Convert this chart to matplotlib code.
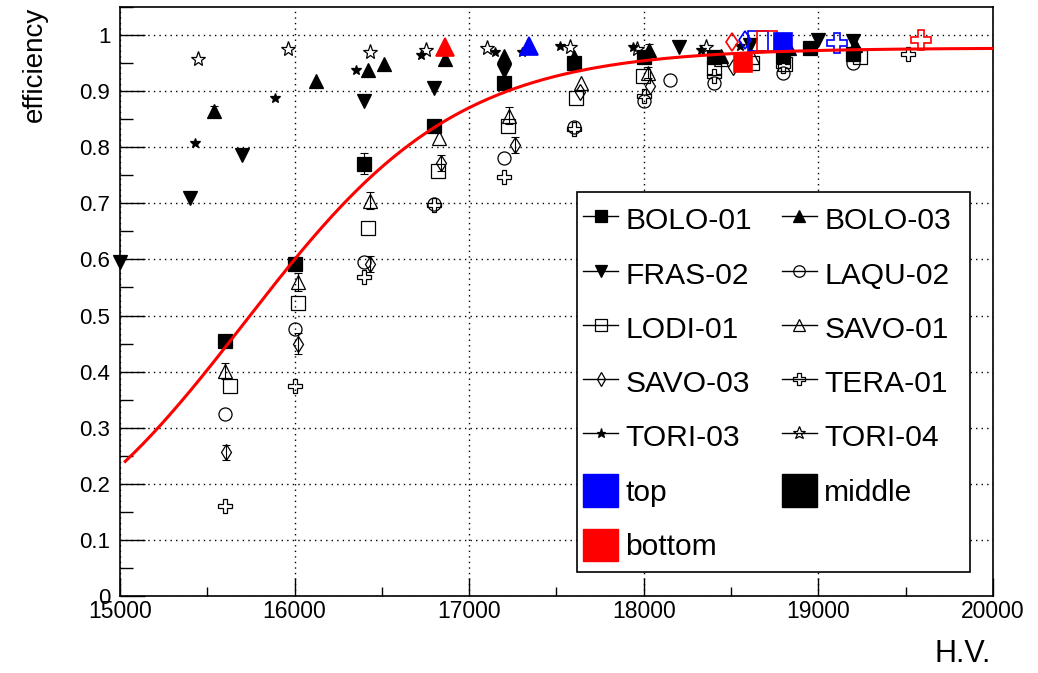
import numpy as np
import matplotlib
matplotlib.use("Agg")
import matplotlib.pyplot as plt
from matplotlib.lines import Line2D
from matplotlib.patches import Patch, Rectangle
from matplotlib.ticker import MultipleLocator, FormatStrFormatter

plt.rcParams['font.family'] = ['Liberation Sans', 'DejaVu Sans']

# efficiency vs H.V. per chamber
bolo01_hv = [15600, 16000, 16400, 16800, 17200, 17600, 18000, 18400, 18800, 18950, 19200]
bolo01_eff = [0.455, 0.591, 0.771, 0.838, 0.915, 0.951, 0.960, 0.960, 0.963, 0.977, 0.966]
bolo01_err = [0, 0, 0.018, 0, 0, 0, 0, 0, 0, 0, 0]

bolo03_hv = [15540, 16120, 16420, 16510, 16860, 17200, 17600, 18030, 18440, 18830, 19210]
bolo03_eff = [0.864, 0.918, 0.938, 0.949, 0.957, 0.963, 0.960, 0.974, 0.963, 0.977, 0.983]
bolo03_err = [0.010, 0, 0, 0, 0, 0, 0, 0.010, 0, 0, 0]

fras02_hv = [15000, 15400, 15700, 16400, 16800, 17200, 18200, 18610, 19000, 19200]
fras02_eff = [0.595, 0.709, 0.786, 0.883, 0.906, 0.936, 0.978, 0.983, 0.991, 0.989]
fras02_err = [0, 0, 0, 0, 0, 0, 0, 0, 0, 0]

laqu02_hv = [15600, 16000, 16400, 16800, 17200, 17600, 18000, 18150, 18400, 18800, 19200]
laqu02_eff = [0.325, 0.476, 0.595, 0.698, 0.780, 0.836, 0.883, 0.919, 0.914, 0.933, 0.951]
laqu02_err = [0, 0, 0, 0, 0, 0, 0, 0, 0, 0, 0]

lodi01_hv = [15630, 16020, 16420, 16820, 17220, 17610, 17995, 18400, 18620, 18810, 19240]
lodi01_eff = [0.375, 0.523, 0.656, 0.757, 0.838, 0.888, 0.927, 0.942, 0.950, 0.948, 0.960]
lodi01_err = [0, 0, 0, 0, 0, 0, 0, 0, 0, 0, 0]

savo01_hv = [15600, 16020, 16430, 16830, 17230, 17640, 18025, 18440, 18620]
savo01_eff = [0.401, 0.559, 0.705, 0.817, 0.856, 0.915, 0.933, 0.958, 0.960]
savo01_err = [0.015, 0.016, 0.015, 0, 0.015, 0, 0.010, 0, 0]

savo03_hv = [15610, 16020, 16430, 16840, 17260, 17635, 18035, 18510]
savo03_eff = [0.256, 0.450, 0.592, 0.772, 0.804, 0.899, 0.909, 0.943]
savo03_err = [0.014, 0.018, 0.015, 0.015, 0.014, 0, 0, 0]

tera01_hv = [15600, 16000, 16400, 16800, 17200, 17600, 18000, 18400, 18800, 19515]
tera01_eff = [0.160, 0.374, 0.568, 0.697, 0.747, 0.832, 0.891, 0.927, 0.945, 0.967]
tera01_err = [0, 0, 0, 0, 0, 0, 0, 0, 0, 0]

tori03_hv = [15430, 15885, 16350, 16725, 17150, 17300, 17520, 17940, 18330, 18550]
tori03_eff = [0.807, 0.888, 0.938, 0.964, 0.970, 0.969, 0.980, 0.978, 0.974, 0.980]
tori03_err = [0, 0, 0, 0, 0, 0, 0, 0, 0, 0]

tori04_hv = [15445, 15960, 16430, 16750, 17100, 17575, 17960, 18355]
tori04_eff = [0.958, 0.976, 0.970, 0.974, 0.977, 0.979, 0.976, 0.978]
tori04_err = [0, 0, 0, 0, 0, 0, 0, 0]

# working points per layer (big coloured markers)
wp_chamber = ["BOLO-03", "BOLO-03", "SAVO-03", "SAVO-03", "BOLO-01",
              "LODI-01", "LODI-01", "BOLO-01", "TERA-01", "TERA-01"]
wp_layer = ["bottom", "top", "bottom", "top", "bottom",
            "top", "bottom", "top", "top", "bottom"]
wp_hv = [16860, 17340, 18503, 18580, 18570, 18656, 18707, 18800, 19105, 19586]
wp_eff = [0.979, 0.980, 0.988, 0.991, 0.951, 0.989, 0.990, 0.988, 0.986, 0.992]

# sigmoid fit
fit_plateau = 0.977
fit_hv50 = 15716
fit_slope = 0.001636
fit_hv_min = 15030

series = {
    "BOLO-01": (bolo01_hv, bolo01_eff, bolo01_err),
    "BOLO-03": (bolo03_hv, bolo03_eff, bolo03_err),
    "FRAS-02": (fras02_hv, fras02_eff, fras02_err),
    "LAQU-02": (laqu02_hv, laqu02_eff, laqu02_err),
    "LODI-01": (lodi01_hv, lodi01_eff, lodi01_err),
    "SAVO-01": (savo01_hv, savo01_eff, savo01_err),
    "SAVO-03": (savo03_hv, savo03_eff, savo03_err),
    "TERA-01": (tera01_hv, tera01_eff, tera01_err),
    "TORI-03": (tori03_hv, tori03_eff, tori03_err),
    "TORI-04": (tori04_hv, tori04_eff, tori04_err),
}

# marker, filled, size in plot, size for big working point marker
style = {
    "BOLO-01": ("s", True, 9.4, 13.5),
    "BOLO-03": ("^", True, 9.4, 13.0),
    "FRAS-02": ("v", True, 9.4, 13.0),
    "LAQU-02": ("o", False, 9.4, 13.0),
    "LODI-01": ("s", False, 9.4, 14.0),
    "SAVO-01": ("^", False, 9.4, 13.0),
    "SAVO-03": ("d", False, 7.7, 9.5),
    "TERA-01": ("P", False, 9.6, 14.5),
    "TORI-03": ("*", True, 7.5, 12.0),
    "TORI-04": ("*", False, 11.0, 14.0),
}
layer_color = {"top": "#0000ff", "middle": "black", "bottom": "#ff0000"}

fig = plt.figure(figsize=(10.38, 6.73), dpi=100)
ax = fig.add_axes([0.1156, 0.1144, 0.8410, 0.8752])

for name, (hv, eff, err) in series.items():
    m, filled, ms, _ = style[name]
    hv = np.array(hv)
    eff = np.array(eff)
    err = np.array(err)
    ax.plot(hv, eff, linestyle="none", marker=m, ms=ms,
            mfc="black" if filled else "none", mec="black", mew=0.9,
            clip_on=False, zorder=3)
    has = err > 0
    if has.any():
        ax.errorbar(hv[has], eff[has], yerr=err[has], fmt="none",
                    ecolor="black", elinewidth=0.8, capsize=2.6,
                    capthick=0.8, zorder=3)

for ch, layer, hv, eff in zip(wp_chamber, wp_layer, wp_hv, wp_eff):
    m, filled, _, big = style[ch]
    c = layer_color[layer]
    ax.plot([hv], [eff], linestyle="none", marker=m, ms=big,
            mfc=c if filled else "none", mec=c, mew=1.2, zorder=4)

hv_fit = np.linspace(fit_hv_min, 20000, 400)
eff_fit = fit_plateau / (1 + np.exp(-fit_slope * (hv_fit - fit_hv50)))
ax.plot(hv_fit, eff_fit, color="#ff0000", lw=2.2, zorder=5)

ax.set_xlim(15000, 20000)
ax.set_ylim(0, 1.05)
ax.xaxis.set_major_locator(MultipleLocator(1000))
ax.xaxis.set_minor_locator(MultipleLocator(500))
ax.yaxis.set_major_locator(MultipleLocator(0.1))
ax.yaxis.set_minor_locator(MultipleLocator(0.05))
ax.yaxis.set_major_formatter(FormatStrFormatter("%g"))
ax.tick_params(axis="x", which="major", direction="in", length=13, width=1, labelsize=16.5, pad=3)
ax.tick_params(axis="x", which="minor", direction="in", length=6.5, width=1)
ax.tick_params(axis="y", which="major", direction="in", length=18, width=1, labelsize=16, pad=7)
ax.tick_params(axis="y", which="minor", direction="in", length=9, width=1)
ax.grid(True, which="major", color="black", linestyle=(0, (1, 3)), lw=1)
for sp in ax.spines.values():
    sp.set_linewidth(1.2)

fig.text(0.034, 0.99, "efficiency", rotation=90, ha="center", va="top", fontsize=20)
fig.text(0.955, 0.006, "H.V.", ha="right", va="bottom", fontsize=22)

# legend
box = Rectangle((0.5235, 0.0407), 0.4502, 0.645, transform=ax.transAxes,
                facecolor="white", edgecolor="black", lw=1.2, zorder=6)
ax.add_patch(box)

def chamber_handle(name):
    m, filled, ms, _ = style[name]
    return Line2D([], [], color="black", lw=1, marker=m,
                  ms=ms * 0.88, mfc="black" if filled else "none",
                  mec="black", mew=0.9)

col1 = ["BOLO-01", "FRAS-02", "LODI-01", "SAVO-03", "TORI-03"]
col2 = ["BOLO-03", "LAQU-02", "SAVO-01", "TERA-01", "TORI-04"]
handles = [chamber_handle(n) for n in col1]
labels = list(col1)
handles += [Patch(color=layer_color["top"]), Patch(color=layer_color["bottom"])]
labels += ["top", "bottom"]
handles += [chamber_handle(n) for n in col2]
labels += list(col2)
handles += [Patch(color=layer_color["middle"])]
labels += ["middle"]

leg = ax.legend(handles, labels, ncol=2, loc="upper left",
                bbox_to_anchor=(0.5235, 0.677), frameon=False,
                fontsize=21.6, borderpad=0.2, handlelength=1.17,
                handleheight=1.28, handletextpad=0.24, labelspacing=0.73,
                columnspacing=1.0, borderaxespad=0)
leg.set_zorder(7)

fig.savefig("out.png", dpi=100)
